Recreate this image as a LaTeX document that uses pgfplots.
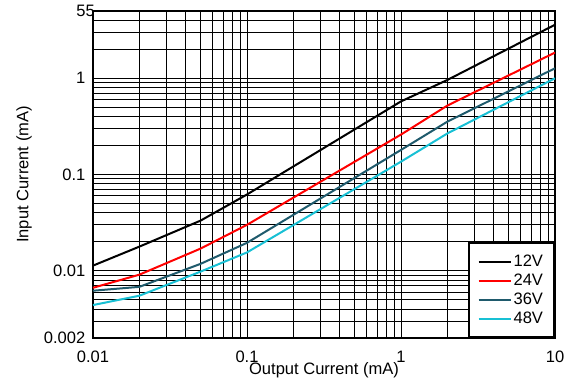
\documentclass[border=0pt]{standalone}
\usepackage{fontspec}
\setmainfont{Liberation Sans}
\usepackage{pgfplots}
\pgfplotsset{compat=1.18}
\definecolor{c36}{RGB}{31,90,108}
\definecolor{c48}{RGB}{24,192,212}
\begin{document}
\begin{tikzpicture}
\useasboundingbox (-93bp,-47bp) rectangle (480bp,338bp);
\begin{axis}[
  at={(0,0)}, anchor=south west,
  scale only axis, width=462bp, height=327bp,
  xmode=log, ymode=log,
  xmin=0.01, xmax=10, ymin=0.002, ymax=5,
  font=\fontsize{16.6}{19}\selectfont,
  /pgf/number format/assume math mode=true,
  xtick={0.01,0.1,1,10}, xticklabels={0.01,0.1,1,10},
  ytick={0.002,0.01,0.1,1}, yticklabels={0.002,0.01,0.1,1},
  extra y ticks={5}, extra y tick labels={55},
  extra y tick style={yticklabel style={xshift=9.5bp}, grid=none},
  minor xtick={0.02,0.03,0.04,0.05,0.06,0.07,0.08,0.09,0.2,0.3,0.4,0.5,0.6,0.7,0.8,0.9,2,3,4,5,6,7,8,9},
  minor ytick={0.003,0.004,0.005,0.006,0.007,0.008,0.009,0.02,0.03,0.04,0.05,0.06,0.07,0.08,0.09,0.2,0.3,0.4,0.5,0.6,0.7,0.8,0.9,2,3,4},
  major tick length=0pt, minor tick length=0pt,
  grid=both,
  major grid style={black, line width=0.9bp},
  minor grid style={black, line width=0.9bp},
  axis line style={line width=2.5bp},
  xticklabel style={anchor=base, inner sep=0pt, yshift=-24bp},
  yticklabel style={anchor=east, inner sep=0pt, xshift=-7.5bp},
  xlabel={Output Current (mA)},
  ylabel={Input Current (mA)},
  xlabel style={at={(axis description cs:0.5,-0.1131)}, anchor=base},
  ylabel style={at={(axis description cs:-0.1396,0.5)}, anchor=base},
  legend cell align=left,
  legend style={at={(1,0)}, anchor=south east, draw=black, line width=2bp,
    inner xsep=9bp, inner ysep=9bp, row sep=0bp,
    nodes={inner sep=2bp, text height=12bp, text depth=3bp},
    font=\fontsize{16.6}{19}\selectfont},
  legend image code/.code={\draw[#1] (0bp,0bp) -- (32bp,0bp);},
  every axis plot/.append style={line width=2bp},
]
\addplot[black] coordinates {(0.01,0.0113) (0.02,0.0178) (0.05,0.0332) (0.1,0.062) (1,0.575) (2,0.96) (10,3.6)};
\addplot[red] coordinates {(0.01,0.00665) (0.02,0.0091) (0.05,0.017) (0.1,0.030) (1,0.26) (2,0.52) (10,1.85)};
\addplot[c36] coordinates {(0.01,0.0062) (0.02,0.0068) (0.05,0.0118) (0.1,0.0195) (1,0.18) (2,0.354) (10,1.27)};
\addplot[c48] coordinates {(0.01,0.0044) (0.02,0.0055) (0.05,0.0098) (0.1,0.0155) (1,0.136) (2,0.267) (10,1.0)};
\legend{12V,24V,36V,48V}
\end{axis}
\end{tikzpicture}
\end{document}
